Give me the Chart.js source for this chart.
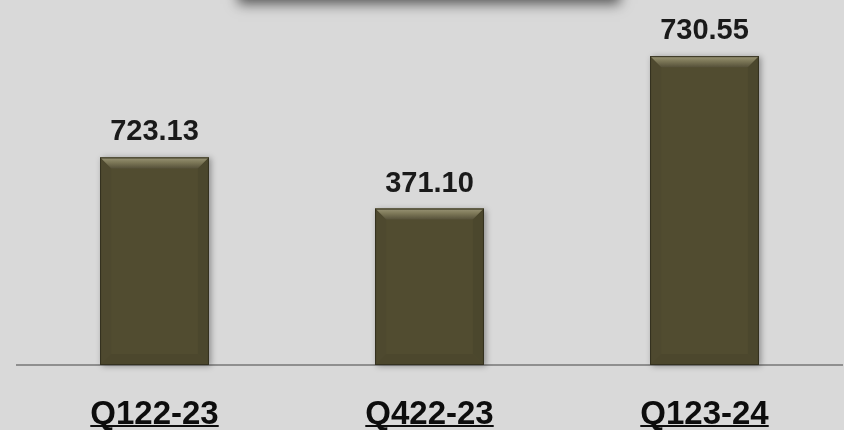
<!DOCTYPE html>
<html>
<head>
<meta charset="utf-8">
<script src="https://cdn.jsdelivr.net/npm/chart.js@4"></script>
<style>
  html, body { margin: 0; padding: 0; background: #d9d9d9; }
  #wrap { width: 844px; height: 430px; }
</style>
</head>
<body>
<div id="wrap"><canvas id="quarterChart" width="844" height="430"></canvas></div>
<script>
// quarters shown on the x axis
var quarters = ["Q122-23", "Q422-23", "Q123-24"];
// value printed above each bar
var valueLabels = ["723.13", "371.10", "730.55"];
// bar heights as drawn in the picture (the original is not to scale)
var barHeights = [207, 156, 308];

var barColor = "#514c30";
var fontFamily = "'Liberation Sans', Arial, sans-serif";

// background + the shadow of the cut-off title box at the top
var backgroundPlugin = {
  id: "background",
  beforeDraw: function (chart) {
    var c = chart.ctx;
    c.save();
    c.fillStyle = "#d9d9d9";
    c.fillRect(0, 0, chart.width, chart.height);
    c.shadowColor = "rgba(0,0,0,0.6)";
    c.shadowBlur = 12;
    c.shadowOffsetY = 4;
    c.fillStyle = "#d9d9d9";
    c.fillRect(238, -40, 382, 40);
    c.restore();
  }
};

// soft shadow behind bars, bevel on top, value labels and underlined quarter labels
var bevelPlugin = {
  id: "bevel",
  beforeDatasetsDraw: function (chart) {
    var c = chart.ctx;
    chart.getDatasetMeta(0).data.forEach(function (bar) {
      var l = bar.x - bar.width / 2;
      c.save();
      c.shadowColor = "rgba(0,0,0,0.35)";
      c.shadowBlur = 6;
      c.shadowOffsetX = 2;
      c.shadowOffsetY = 1;
      c.fillStyle = barColor;
      c.fillRect(l, bar.y, bar.width, bar.base - bar.y);
      c.restore();
    });
  },
  afterDatasetsDraw: function (chart) {
    var c = chart.ctx;
    var b = 11;
    chart.getDatasetMeta(0).data.forEach(function (bar, i) {
      var l = bar.x - bar.width / 2, r = bar.x + bar.width / 2;
      var t = bar.y, bt = bar.base;
      c.save();
      // top bevel
      var g = c.createLinearGradient(0, t, 0, t + b);
      g.addColorStop(0, "#9a9576");
      g.addColorStop(0.45, "#7d7858");
      g.addColorStop(1, "#56513a");
      c.fillStyle = g;
      c.beginPath();
      c.moveTo(l, t); c.lineTo(r, t); c.lineTo(r - b, t + b); c.lineTo(l + b, t + b);
      c.closePath(); c.fill();
      // left bevel
      c.fillStyle = "#4e492f";
      c.beginPath();
      c.moveTo(l, t); c.lineTo(l + b, t + b); c.lineTo(l + b, bt - b); c.lineTo(l, bt);
      c.closePath(); c.fill();
      // right bevel
      c.fillStyle = "#4b472d";
      c.beginPath();
      c.moveTo(r, t); c.lineTo(r - b, t + b); c.lineTo(r - b, bt - b); c.lineTo(r, bt);
      c.closePath(); c.fill();
      // bottom bevel
      c.fillStyle = "#4c472d";
      c.beginPath();
      c.moveTo(l, bt); c.lineTo(l + b, bt - b); c.lineTo(r - b, bt - b); c.lineTo(r, bt);
      c.closePath(); c.fill();
      // outline
      c.strokeStyle = "#34311f";
      c.lineWidth = 1;
      c.strokeRect(l + 0.5, t + 0.5, bar.width - 1, bt - t - 1);

      // value label
      c.fillStyle = "#1a1a1a";
      c.font = "bold 29px " + fontFamily;
      c.textAlign = "center";
      c.textBaseline = "alphabetic";
      c.fillText(valueLabels[i], bar.x, t - 17);

      // quarter label, underlined
      c.font = "bold 33px " + fontFamily;
      c.fillStyle = "#0d0d0d";
      c.fillText(quarters[i], bar.x, 424);
      var w = c.measureText(quarters[i]).width;
      c.fillRect(bar.x - w / 2, 425, w, 2);
      c.restore();
    });
  }
};

var ctx = document.getElementById("quarterChart").getContext("2d");
var quarterChart = new Chart(ctx, {
  type: "bar",
  data: {
    labels: quarters,
    datasets: [
      {
        data: barHeights,
        backgroundColor: barColor,
        borderWidth: 0,
        categoryPercentage: 1,
        barPercentage: 0.396
      }
    ]
  },
  options: {
    responsive: false,
    animation: false,
    layout: { padding: { left: 17, right: 2, top: 0, bottom: 57 } },
    plugins: {
      legend: { display: false },
      tooltip: { enabled: false }
    },
    scales: {
      x: {
        grid: { display: false },
        ticks: { display: false },
        border: { display: true, color: "#8f8f8f", width: 2 }
      },
      y: {
        display: false,
        min: 0,
        max: 364
      }
    }
  },
  plugins: [backgroundPlugin, bevelPlugin]
});
</script>
</body>
</html>
